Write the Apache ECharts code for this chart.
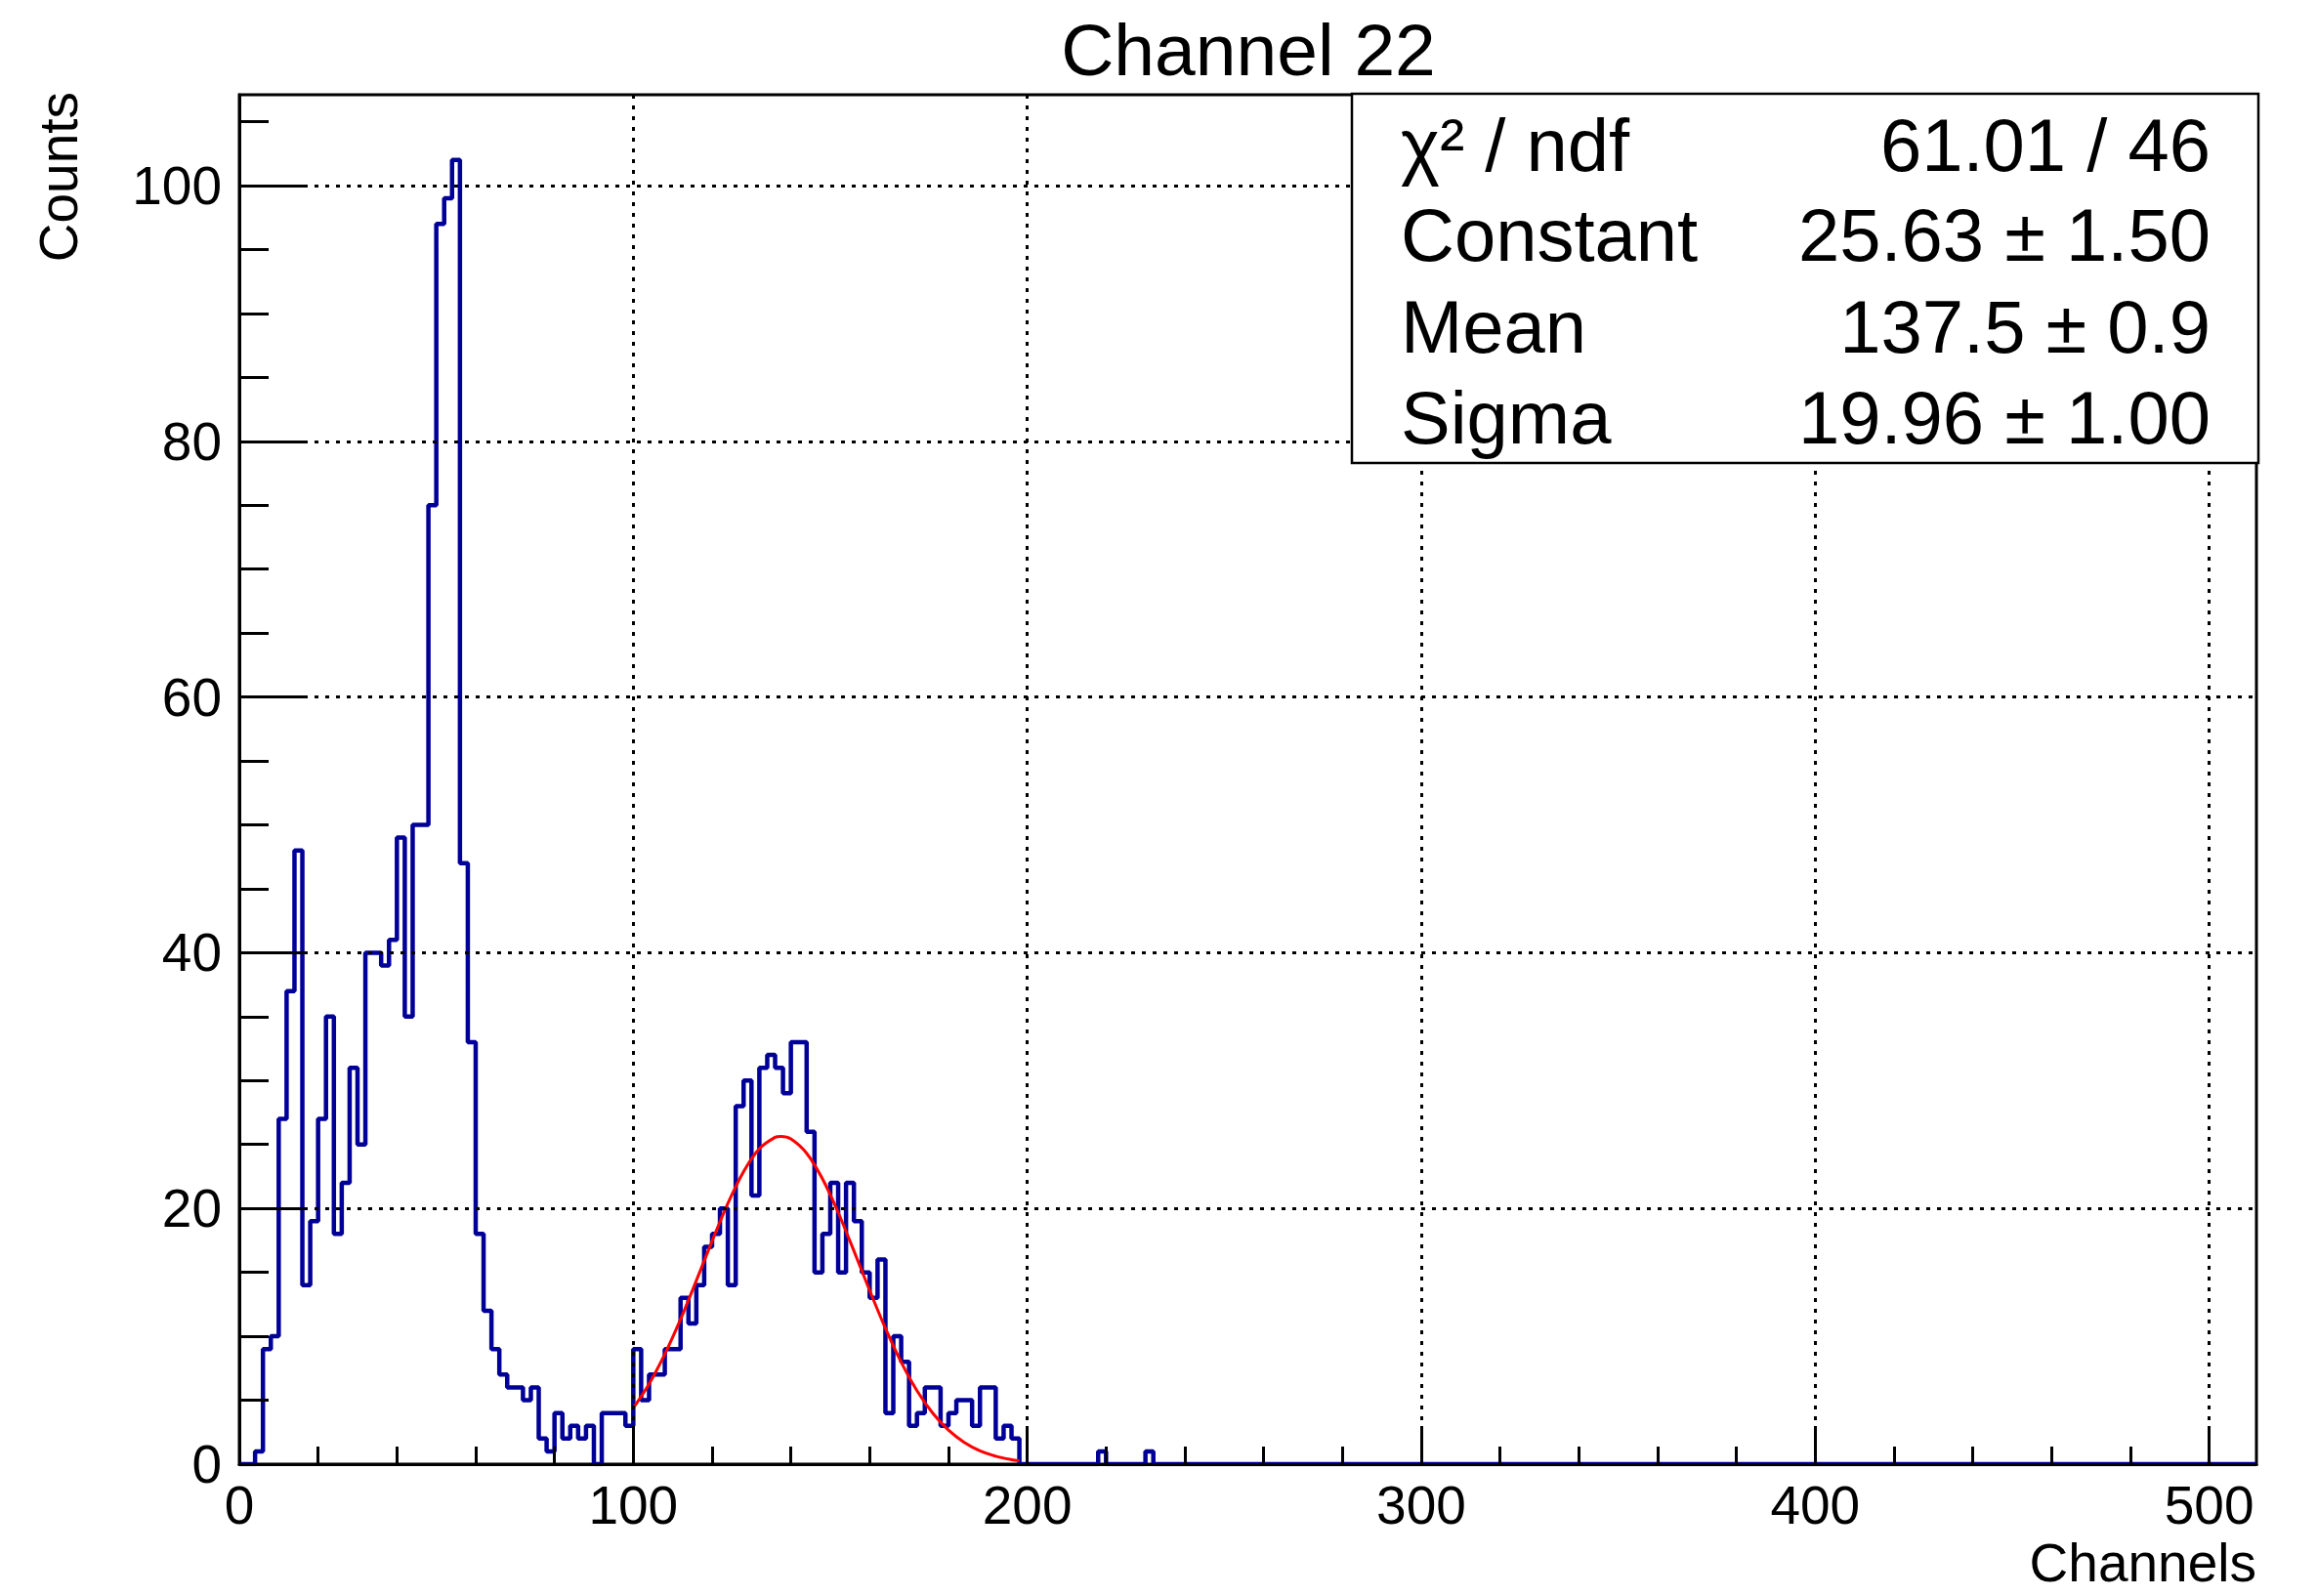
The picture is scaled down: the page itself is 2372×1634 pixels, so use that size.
<!DOCTYPE html>
<html>
<head>
<meta charset="utf-8">
<title>Channel 22</title>
<script src="https://cdn.jsdelivr.net/npm/echarts@6.0.0/dist/echarts.min.js"></script>
<style>
  html, body { margin: 0; padding: 0; background: #ffffff; }
  #chart { width: 2372px; height: 1634px; }
</style>
</head>
<body>
<div id="chart"></div>
<script>
// ---------------- data ----------------
const titleText = 'Channel 22';
const xAxisTitle = 'Channels';
const yAxisTitle = 'Counts';
const binWidth = 2;          // channels per bin
const xMin = 0, xMax = 512;
const yMin = 0, yMax = 107.1;
// histogram contents, one per bin starting at channel 0 (bins after channel 234 are empty)
const counts = [
  0, 0, 1, 9, 10, 27, 37, 48, 14, 19,
  27, 35, 18, 22, 31, 25, 40, 40, 39, 41,
  49, 35, 50, 50, 75, 97, 99, 102, 47, 33,
  18, 12, 9, 7, 6, 6, 5, 6, 2, 1,
  4, 2, 3, 2, 3, 0, 4, 4, 4, 3,
  9, 5, 7, 7, 9, 9, 13, 11, 14, 17,
  18, 20, 14, 28, 30, 21, 31, 32, 31, 29,
  33, 33, 26, 15, 18, 22, 15, 22, 19, 15,
  13, 16, 4, 10, 8, 3, 4, 6, 6, 3,
  4, 5, 5, 3, 6, 6, 2, 3, 2, 0,
  0, 0, 0, 0, 0, 0, 0, 0, 0, 1,
  0, 0, 0, 0, 0, 1, 0
];
// gaussian fit curve
const fitX = [100, 104, 108, 112, 116, 120, 124, 128, 132, 136, 137.5, 140, 144, 148, 152, 156, 160, 164, 168, 172, 176, 180, 184, 188, 192, 196, 198];
const fitY = [4.39, 6.27, 8.60, 11.33, 14.35, 17.45, 20.39, 22.88, 24.67, 25.56, 25.63, 25.43, 24.31, 22.32, 19.69, 16.68, 13.58, 10.62, 7.97, 5.75, 3.99, 2.66, 1.70, 1.04, 0.62, 0.35, 0.26];
// axis ticks
const xMajorTicks = [0, 100, 200, 300, 400, 500];
const xMinorTicks = [20, 40, 60, 80, 120, 140, 160, 180, 220, 240, 260, 280, 320, 340, 360, 380, 420, 440, 460, 480];
const yMajorTicks = [0, 20, 40, 60, 80, 100];
const yMinorTicks = [5, 10, 15, 25, 30, 35, 45, 50, 55, 65, 70, 75, 85, 90, 95, 105];
// fit statistics box
const statLabels = ['χ² / ndf', 'Constant', 'Mean', 'Sigma'];
const statValues = ['61.01 / 46', '25.63 ± 1.50', '137.5 ± 0.9', '19.96 ± 1.00'];

// ---------------- chart ----------------
const FONT = 'Liberation Sans, Arial, Helvetica, sans-serif';
const histData = counts.map((c, i) => [i * binWidth, c]);
histData.push([xMax, 0]);
const fitData = fitX.map((x, i) => [x, fitY[i]]);

const chart = echarts.init(document.getElementById('chart'), null, { renderer: 'svg' });

const grid = { left: 245, top: 97, right: 62, bottom: 135 };
const gridLine = { show: true, lineStyle: { color: '#000', width: 3, type: [4, 7] } };

const statGraphics = [{
  type: 'rect', z: 100,
  shape: { x: 1384, y: 96, width: 928, height: 378 },
  style: { fill: '#ffffff', stroke: '#000000', lineWidth: 2.5 }
}];
const rowY = [148, 240, 334, 427];
statLabels.forEach((t, i) => {
  statGraphics.push({
    type: 'text', z: 101, x: 1434, y: rowY[i],
    style: { text: t, fontSize: 76, fontFamily: FONT, fill: '#000',
             align: 'left', verticalAlign: 'middle', textAlign: 'left', textVerticalAlign: 'middle' }
  });
  statGraphics.push({
    type: 'text', z: 101, x: 2263, y: rowY[i],
    style: { text: statValues[i], fontSize: 76, fontFamily: FONT, fill: '#000',
             align: 'right', verticalAlign: 'middle', textAlign: 'right', textVerticalAlign: 'middle' }
  });
});

const option = {
  animation: false,
  backgroundColor: '#ffffff',
  textStyle: { fontFamily: FONT, color: '#000' },
  title: {
    text: titleText,
    left: 1278, top: 13, padding: 0,
    textAlign: 'center', textVerticalAlign: 'top',
    textStyle: { fontSize: 75, fontWeight: 'normal', color: '#000', fontFamily: FONT }
  },
  grid: Object.assign({ show: true, borderColor: '#000', borderWidth: 3, backgroundColor: 'transparent' }, grid),
  xAxis: [{
    type: 'value', position: 'bottom', min: xMin, max: xMax, interval: 100, z: 3,
    axisLine: { show: true, onZero: false, lineStyle: { color: '#000', width: 3 } },
    axisTick: { show: true, inside: true, length: 39, customValues: xMajorTicks, lineStyle: { color: '#000', width: 3 } },
    axisLabel: { show: true, customValues: xMajorTicks, fontSize: 55, color: '#000', margin: 14, fontFamily: FONT },
    splitLine: gridLine
  }, {
    type: 'value', position: 'bottom', min: xMin, max: xMax, interval: 100, z: 3,
    axisLine: { show: false },
    axisTick: { show: true, inside: true, length: 18, customValues: xMinorTicks, lineStyle: { color: '#000', width: 3 } },
    axisLabel: { show: false },
    splitLine: { show: false }
  }],
  yAxis: [{
    type: 'value', position: 'left', min: yMin, max: yMax, interval: 20, z: 3,
    axisLine: { show: true, onZero: false, lineStyle: { color: '#000', width: 3 } },
    axisTick: { show: true, inside: true, length: 66, customValues: yMajorTicks, lineStyle: { color: '#000', width: 3 } },
    axisLabel: { show: true, customValues: yMajorTicks, fontSize: 55, color: '#000', margin: 18, fontFamily: FONT },
    splitLine: gridLine
  }, {
    type: 'value', position: 'left', min: yMin, max: yMax, interval: 20, z: 3,
    axisLine: { show: false },
    axisTick: { show: true, inside: true, length: 30, customValues: yMinorTicks, lineStyle: { color: '#000', width: 3 } },
    axisLabel: { show: false },
    splitLine: { show: false }
  }],
  series: [{
    name: 'Channel 22',
    type: 'line', xAxisIndex: 0, yAxisIndex: 0,
    step: 'end', data: histData, showSymbol: false, symbol: 'none',
    lineStyle: { color: '#000099', width: 4.5 }, z: 2
  }, {
    name: 'gaus fit',
    type: 'line', xAxisIndex: 0, yAxisIndex: 0,
    data: fitData, smooth: 0.3, showSymbol: false, symbol: 'none',
    lineStyle: { color: '#ff0000', width: 3 }, z: 2
  }],
  graphic: [
    {
      type: 'text', z: 100, x: 60, y: 94, rotation: Math.PI / 2,
      style: { text: yAxisTitle, fontSize: 55, fontFamily: FONT, fill: '#000',
               align: 'right', verticalAlign: 'middle', textAlign: 'right', textVerticalAlign: 'middle' }
    },
    {
      type: 'text', z: 100, x: 2310, y: 1600,
      style: { text: xAxisTitle, fontSize: 55, fontFamily: FONT, fill: '#000',
               align: 'right', verticalAlign: 'middle', textAlign: 'right', textVerticalAlign: 'middle' }
    }
  ].concat(statGraphics)
};
chart.setOption(option);
</script>
</body>
</html>
